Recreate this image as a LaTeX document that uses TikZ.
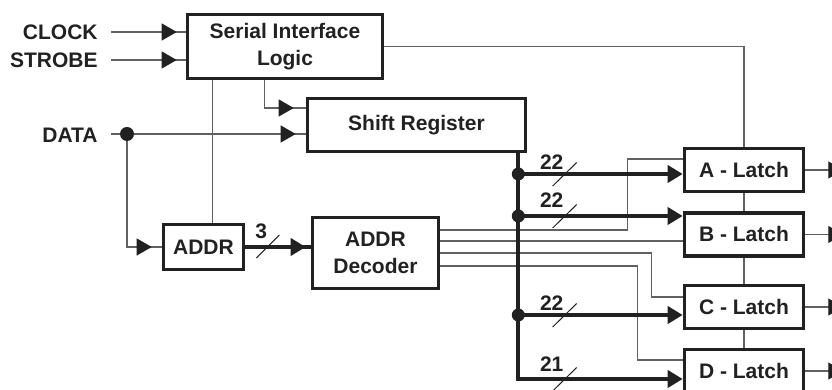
\documentclass[tikz,border=0pt]{standalone}
\usepackage{fontspec}
\setmainfont{Liberation Sans}
\usetikzlibrary{arrows.meta}
\definecolor{ink}{gray}{0.13}
\definecolor{wire}{gray}{0.38}
\tikzset{
  blk/.style={draw=ink,line width=1.8pt,align=center,inner sep=0pt},
  thinwire/.style={draw=wire,line width=0.6pt},
  bus/.style={draw=ink,line width=1.9pt},
  feed/.style={postaction={draw,->,shorten >=#1}},
  feed/.default=4.5pt,
  inlabel/.style={anchor=east,inner sep=0pt}
}
\begin{document}
\begin{tikzpicture}[x=0.5pt,y=0.5pt,>={Triangle[length=7.5pt,width=8.5pt,color=ink]},
    font=\fontsize{10.5}{13.2}\selectfont\bfseries,text=ink]
    \clip (0,0) rectangle (832,390);

    % blocks
    \node[blk,minimum width=97.5pt,minimum height=32pt] (sil) at (285,343.5) {Serial Interface\\Logic};
    \node[blk,minimum width=109pt,minimum height=26.5pt] (shreg) at (416.5,265) {Shift Register};
    \node[blk,minimum width=40pt,minimum height=22.5pt] (addr) at (203.5,143) {ADDR};
    \node[blk,minimum width=63pt,minimum height=35.5pt] (dec) at (375.5,137) {ADDR\\Decoder};
    \foreach \n/\y in {A/220,B/155.5,C/83,D/19}
        \node[blk,minimum width=59.5pt,minimum height=21.5pt] (lat\n) at (744,\y) {\n\ - Latch};

    % inputs
    \node[inlabel] (clock) at (98,358) {CLOCK};
    \node[inlabel] (strobe) at (98,330) {STROBE};
    \node[inlabel] (data) at (98,255) {DATA};
    \coordinate (dj) at (127,256);

    \draw[thinwire,feed] ([xshift=6.5pt]clock.east) -- (sil.west |- clock);
    \draw[thinwire,feed] ([xshift=6.5pt]strobe.east) -- (sil.west |- strobe);
    \draw[thinwire] ([xshift=6.5pt]data.east |- dj) -- (dj);
    \draw[thinwire,feed=5pt] (dj) -- (shreg.west |- dj);
    \draw[thinwire,feed=5pt] (dj) |- (addr.west);
    \fill[ink] (dj) circle (3.5pt);

    % control lines
    \draw[thinwire] ([xshift=13.5pt]sil.south west) -- ([xshift=13.5pt]sil.south west |- addr.north);
    \draw[thinwire,feed=6pt] ([xshift=39.5pt]sil.south west) |- ([yshift=8.5pt]shreg.west);
    \draw[thinwire] (sil.east) -| (latA.north);
    \draw[thinwire] (latA.south) -- (latB.north);
    \draw[thinwire] (latB.south) -- (latC.north);
    \draw[thinwire] (latC.south) -- (latD.north);
    \foreach \n in {A,B,C,D}
        \draw[thinwire,->] (lat\n.east) -- ++(38,0);

    % decoder outputs
    \coordinate (dA) at ([yshift=11.5pt]dec.east);
    \coordinate (dB) at ([yshift=6pt]dec.east);
    \coordinate (dC) at (dec.east);
    \coordinate (dD) at ([yshift=-6.5pt]dec.east);
    \coordinate (eA) at ([yshift=5.5pt]latA.west);
    \coordinate (eC) at ([yshift=5pt]latC.west);
    \coordinate (eD) at ([yshift=5.5pt]latD.west);
    \draw[thinwire] (dA) -| ([xshift=-27.5pt]eA) -- (eA);
    \draw[thinwire] (dB) -- (dB -| latB.west);
    \draw[thinwire] (dC) -| ([xshift=-15.5pt]eC) -- (eC);
    \draw[thinwire] (dD) -| ([xshift=-22.5pt]eD) -- (eD);

    % address bus
    \draw[bus,feed=2.5pt] (addr.east) -- (addr.east -| dec.west);
    \draw[ink,line width=0.5pt] ([shift={(11,-11)}]addr.east) -- ++(23,23);
    \node (n3) at ([shift={(16,16)}]addr.east) {3};

    % data bus
    \coordinate (bus) at ([xshift=-4.5pt]shreg.south east);
    \coordinate (tA) at ([yshift=-2pt]latA.west);
    \coordinate (tB) at ([yshift=9.25pt]latB.west);
    \coordinate (tC) at ([yshift=-4pt]latC.west);
    \coordinate (tD) at ([yshift=-4pt]latD.west);
    \draw[bus,->] (bus) |- (tD);
    \foreach \t in {tA,tB,tC}{
        \draw[bus,->] (\t -| bus) -- (\t);
        \fill[ink] (\t -| bus) circle (3.25pt);
    }
    \foreach \t/\w/\dy in {tA/22/11.5,tB/22/16,tC/22/12,tD/21/15}{
        \draw[ink,line width=0.5pt] ([shift={(-130,-12)}]\t) -- ++(24,23.5);
        \node at ([shift={(-131,\dy)}]\t) {\w};
    }
\end{tikzpicture}
\end{document}
